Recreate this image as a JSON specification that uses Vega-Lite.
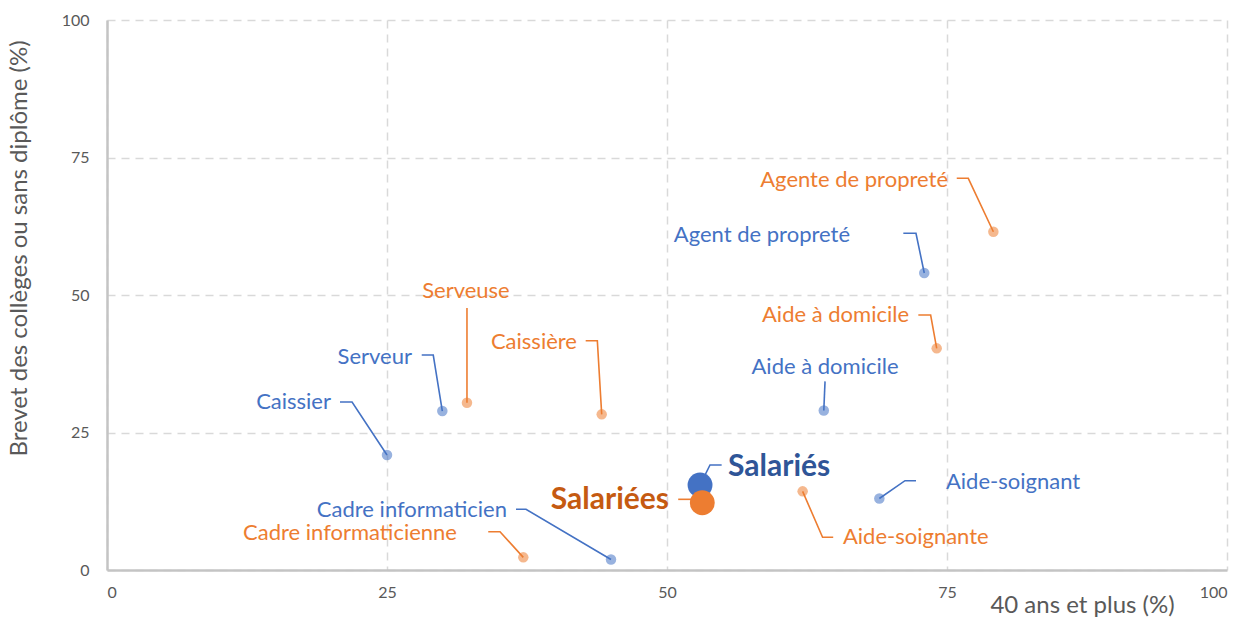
{
  "$schema": "https://vega.github.io/schema/vega-lite/v6.json",
  "width": 1120,
  "height": 550,
  "autosize": "none",
  "padding": {"left": 107, "top": 20, "right": 16, "bottom": 49},
  "background": "white",
  "config": {
    "view": {"stroke": null},
    "font": "Lato",
    "axis": {
      "labelFont": "Lato",
      "labelFontSize": 16,
      "labelColor": "#595959",
      "titleFont": "Lato",
      "titleFontSize": 24,
      "titleFontWeight": "normal",
      "titleColor": "#595959",
      "domainColor": "#c4c4c4",
      "domainWidth": 2.5,
      "ticks": false,
      "grid": true,
      "gridColor": "#d9d9d9",
      "gridDash": [8, 6],
      "gridWidth": 1.5
    }
  },
  "datasets": {
    "points": [
      {"libelle": "Caissier", "sexe": "Homme", "groupe": "métier", "age40": 25.0, "brevet": 20.9},
      {"libelle": "Serveur", "sexe": "Homme", "groupe": "métier", "age40": 29.94, "brevet": 28.9},
      {"libelle": "Cadre informaticien", "sexe": "Homme", "groupe": "métier", "age40": 45.0, "brevet": 1.9},
      {"libelle": "Agent de propreté", "sexe": "Homme", "groupe": "métier", "age40": 72.97, "brevet": 54.0},
      {"libelle": "Aide à domicile", "sexe": "Homme", "groupe": "métier", "age40": 64.0, "brevet": 29.0},
      {"libelle": "Aide-soignant", "sexe": "Homme", "groupe": "métier", "age40": 68.96, "brevet": 13.0},
      {"libelle": "Serveuse", "sexe": "Femme", "groupe": "métier", "age40": 32.14, "brevet": 30.4},
      {"libelle": "Caissière", "sexe": "Femme", "groupe": "métier", "age40": 44.17, "brevet": 28.3},
      {"libelle": "Cadre informaticienne", "sexe": "Femme", "groupe": "métier", "age40": 37.17, "brevet": 2.3},
      {"libelle": "Agente de propreté", "sexe": "Femme", "groupe": "métier", "age40": 79.14, "brevet": 61.5},
      {"libelle": "Aide à domicile", "sexe": "Femme", "groupe": "métier", "age40": 74.08, "brevet": 40.3},
      {"libelle": "Aide-soignante", "sexe": "Femme", "groupe": "métier", "age40": 62.11, "brevet": 14.3},
      {"libelle": "Salariés", "sexe": "Homme", "groupe": "ensemble", "age40": 52.95, "brevet": 15.45},
      {"libelle": "Salariées", "sexe": "Femme", "groupe": "ensemble", "age40": 53.15, "brevet": 12.24}
    ],
    "etiquettes": [
      {"libelle": "Caissier", "sexe": "Homme", "groupe": "métier", "ex": 20.0, "ey": 30.55},
      {"libelle": "Serveur", "sexe": "Homme", "groupe": "métier", "ex": 27.23, "ey": 38.78},
      {"libelle": "Cadre informaticien", "sexe": "Homme", "groupe": "métier", "ex": 35.71, "ey": 10.91},
      {"libelle": "Agent de propreté", "sexe": "Homme", "groupe": "métier", "ex": 66.34, "ey": 60.91},
      {"libelle": "Aide à domicile", "sexe": "Homme", "groupe": "métier", "ex": 64.11, "ey": 36.96},
      {"libelle": "Aide-soignant", "sexe": "Homme", "groupe": "métier", "ex": 74.91, "ey": 16.05},
      {"libelle": "Serveuse", "sexe": "Femme", "groupe": "métier", "ex": 32.05, "ey": 50.73},
      {"libelle": "Caissière", "sexe": "Femme", "groupe": "métier", "ex": 41.96, "ey": 41.51},
      {"libelle": "Cadre informaticienne", "sexe": "Femme", "groupe": "métier", "ex": 31.25, "ey": 6.67},
      {"libelle": "Agente de propreté", "sexe": "Femme", "groupe": "métier", "ex": 75.09, "ey": 70.91},
      {"libelle": "Aide à domicile", "sexe": "Femme", "groupe": "métier", "ex": 71.61, "ey": 46.36},
      {"libelle": "Aide-soignante", "sexe": "Femme", "groupe": "métier", "ex": 65.71, "ey": 5.95},
      {"libelle": "Salariés", "sexe": "Homme", "groupe": "ensemble", "ex": 55.45, "ey": 18.73},
      {"libelle": "Salariées", "sexe": "Femme", "groupe": "ensemble", "ex": 50.18, "ey": 12.73}
    ],
    "traits": [
      {"id": "Caissier", "sexe": "Homme", "ordre": 1, "tx": 20.8, "ty": 30.55},
      {"id": "Caissier", "sexe": "Homme", "ordre": 2, "tx": 21.88, "ty": 30.55},
      {"id": "Caissier", "sexe": "Homme", "ordre": 3, "tx": 25.0, "ty": 20.9},
      {"id": "Serveur", "sexe": "Homme", "ordre": 1, "tx": 28.1, "ty": 39.09},
      {"id": "Serveur", "sexe": "Homme", "ordre": 2, "tx": 29.13, "ty": 39.09},
      {"id": "Serveur", "sexe": "Homme", "ordre": 3, "tx": 29.94, "ty": 28.9},
      {"id": "Serveuse", "sexe": "Femme", "ordre": 1, "tx": 32.14, "ty": 47.64},
      {"id": "Serveuse", "sexe": "Femme", "ordre": 2, "tx": 32.14, "ty": 30.4},
      {"id": "Caissière", "sexe": "Femme", "ordre": 1, "tx": 42.74, "ty": 41.69},
      {"id": "Caissière", "sexe": "Femme", "ordre": 2, "tx": 43.78, "ty": 41.69},
      {"id": "Caissière", "sexe": "Femme", "ordre": 3, "tx": 44.17, "ty": 28.3},
      {"id": "Cadre informaticien", "sexe": "Homme", "ordre": 1, "tx": 36.52, "ty": 11.04},
      {"id": "Cadre informaticien", "sexe": "Homme", "ordre": 2, "tx": 37.41, "ty": 11.04},
      {"id": "Cadre informaticien", "sexe": "Homme", "ordre": 3, "tx": 45.0, "ty": 1.9},
      {"id": "Cadre informaticienne", "sexe": "Femme", "ordre": 1, "tx": 34.04, "ty": 6.96},
      {"id": "Cadre informaticienne", "sexe": "Femme", "ordre": 2, "tx": 35.09, "ty": 6.96},
      {"id": "Cadre informaticienne", "sexe": "Femme", "ordre": 3, "tx": 37.17, "ty": 2.3},
      {"id": "Agent de propreté", "sexe": "Homme", "ordre": 1, "tx": 71.1, "ty": 61.22},
      {"id": "Agent de propreté", "sexe": "Homme", "ordre": 2, "tx": 72.23, "ty": 61.22},
      {"id": "Agent de propreté", "sexe": "Homme", "ordre": 3, "tx": 72.97, "ty": 54.0},
      {"id": "Agente de propreté", "sexe": "Femme", "ordre": 1, "tx": 75.87, "ty": 71.22},
      {"id": "Agente de propreté", "sexe": "Femme", "ordre": 2, "tx": 76.9, "ty": 71.22},
      {"id": "Agente de propreté", "sexe": "Femme", "ordre": 3, "tx": 79.14, "ty": 61.5},
      {"id": "Aide à domicile F", "sexe": "Femme", "ordre": 1, "tx": 72.44, "ty": 46.36},
      {"id": "Aide à domicile F", "sexe": "Femme", "ordre": 2, "tx": 73.54, "ty": 46.36},
      {"id": "Aide à domicile F", "sexe": "Femme", "ordre": 3, "tx": 74.08, "ty": 40.3},
      {"id": "Aide à domicile H", "sexe": "Homme", "ordre": 1, "tx": 64.11, "ty": 34.3},
      {"id": "Aide à domicile H", "sexe": "Homme", "ordre": 2, "tx": 64.0, "ty": 29.0},
      {"id": "Salariés", "sexe": "Homme", "ordre": 1, "tx": 54.88, "ty": 19.09},
      {"id": "Salariés", "sexe": "Homme", "ordre": 2, "tx": 53.84, "ty": 19.09},
      {"id": "Salariés", "sexe": "Homme", "ordre": 3, "tx": 52.95, "ty": 15.45},
      {"id": "Salariées", "sexe": "Femme", "ordre": 1, "tx": 51.0, "ty": 12.85},
      {"id": "Salariées", "sexe": "Femme", "ordre": 2, "tx": 52.2, "ty": 12.85},
      {"id": "Aide-soignant", "sexe": "Homme", "ordre": 1, "tx": 68.96, "ty": 13.0},
      {"id": "Aide-soignant", "sexe": "Homme", "ordre": 2, "tx": 71.25, "ty": 16.24},
      {"id": "Aide-soignant", "sexe": "Homme", "ordre": 3, "tx": 72.23, "ty": 16.24},
      {"id": "Aide-soignante", "sexe": "Femme", "ordre": 1, "tx": 62.11, "ty": 14.3},
      {"id": "Aide-soignante", "sexe": "Femme", "ordre": 2, "tx": 63.89, "ty": 5.95},
      {"id": "Aide-soignante", "sexe": "Femme", "ordre": 3, "tx": 64.84, "ty": 5.95}
    ]
  },
  "layer": [
    {
      "data": {"name": "traits"},
      "mark": {"type": "line", "strokeWidth": 1.6, "interpolate": "linear"},
      "encoding": {
        "x": {
          "field": "tx", "type": "quantitative",
          "scale": {"domain": [0, 100], "nice": false, "zero": false},
          "axis": {
            "values": [0, 25, 50, 75, 100],
            "title": "40 ans et plus (%)",
            "labelPadding": 14,
            "titleX": 975, "titleY": 23, "titleAlign": "center", "titleBaseline": "top"
          }
        },
        "y": {
          "field": "ty", "type": "quantitative",
          "scale": {"domain": [0, 100], "nice": false, "zero": false},
          "axis": {
            "values": [0, 25, 50, 75, 100],
            "title": "Brevet des collèges ou sans diplôme (%)",
            "labelPadding": 18,
            "titleX": -88, "titleY": 228, "titleAngle": -90, "titleAlign": "center", "titleBaseline": "middle"
          }
        },
        "detail": {"field": "id"},
        "order": {"field": "ordre", "type": "quantitative"},
        "color": {"field": "sexe", "type": "nominal", "scale": {"domain": ["Homme", "Femme"], "range": ["#4472C4", "#ED7D31"]}, "legend": null}
      }
    },
    {
      "data": {"name": "points"},
      "mark": {"type": "circle", "stroke": null},
      "encoding": {
        "x": {"field": "age40", "type": "quantitative"},
        "y": {"field": "brevet", "type": "quantitative"},
        "color": {"field": "sexe", "type": "nominal", "legend": null},
        "size": {"field": "groupe", "type": "nominal", "scale": {"domain": ["métier", "ensemble"], "range": [110, 620]}, "legend": null},
        "opacity": {"field": "groupe", "type": "nominal", "scale": {"domain": ["métier", "ensemble"], "range": [0.55, 1]}, "legend": null}
      }
    },
    {
      "data": {"name": "etiquettes"},
      "transform": [{"filter": "datum.groupe == 'métier' && datum.libelle != 'Aide-soignant' && datum.libelle != 'Aide-soignante' && datum.libelle != 'Serveuse' && !(datum.libelle == 'Aide à domicile' && datum.sexe == 'Homme')"}],
      "mark": {"type": "text", "align": "right", "baseline": "middle", "fontSize": 22, "font": "Lato"},
      "encoding": {
        "x": {"field": "ex", "type": "quantitative"},
        "y": {"field": "ey", "type": "quantitative"},
        "text": {"field": "libelle"},
        "color": {"field": "sexe", "type": "nominal", "legend": null}
      }
    },
    {
      "data": {"name": "etiquettes"},
      "transform": [{"filter": "datum.libelle == 'Aide-soignant' || datum.libelle == 'Aide-soignante'"}],
      "mark": {"type": "text", "align": "left", "baseline": "middle", "fontSize": 22, "font": "Lato"},
      "encoding": {
        "x": {"field": "ex", "type": "quantitative"},
        "y": {"field": "ey", "type": "quantitative"},
        "text": {"field": "libelle"},
        "color": {"field": "sexe", "type": "nominal", "legend": null}
      }
    },
    {
      "data": {"name": "etiquettes"},
      "transform": [{"filter": "datum.libelle == 'Serveuse' || (datum.libelle == 'Aide à domicile' && datum.sexe == 'Homme')"}],
      "mark": {"type": "text", "align": "center", "baseline": "middle", "fontSize": 22, "font": "Lato"},
      "encoding": {
        "x": {"field": "ex", "type": "quantitative"},
        "y": {"field": "ey", "type": "quantitative"},
        "text": {"field": "libelle"},
        "color": {"field": "sexe", "type": "nominal", "legend": null}
      }
    },
    {
      "data": {"name": "etiquettes"},
      "transform": [{"filter": "datum.libelle == 'Salariés'"}],
      "mark": {"type": "text", "align": "left", "baseline": "middle", "fontSize": 30, "fontWeight": "bold", "font": "Lato", "color": "#2F5597"},
      "encoding": {
        "x": {"field": "ex", "type": "quantitative"},
        "y": {"field": "ey", "type": "quantitative"},
        "text": {"field": "libelle"}
      }
    },
    {
      "data": {"name": "etiquettes"},
      "transform": [{"filter": "datum.libelle == 'Salariées'"}],
      "mark": {"type": "text", "align": "right", "baseline": "middle", "fontSize": 30, "fontWeight": "bold", "font": "Lato", "color": "#C55A11"},
      "encoding": {
        "x": {"field": "ex", "type": "quantitative"},
        "y": {"field": "ey", "type": "quantitative"},
        "text": {"field": "libelle"}
      }
    }
  ]
}
